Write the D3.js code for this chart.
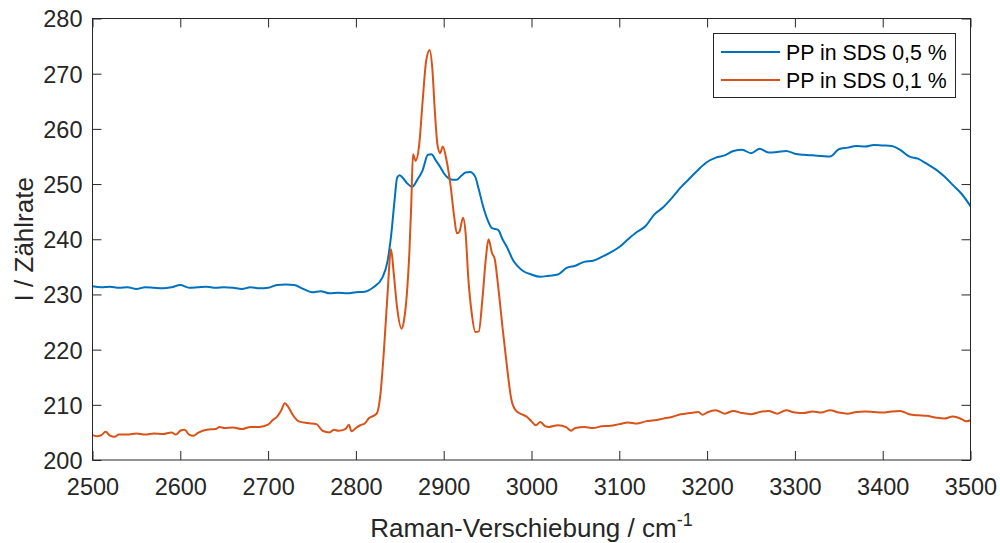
<!DOCTYPE html>
<html>
<head>
<meta charset="utf-8">
<script src="https://cdn.jsdelivr.net/npm/d3@7"></script>
<style>
  body { margin: 0; background: #fff; }
  svg text { font-family: "Liberation Sans", Arial, sans-serif; fill: #262626; }
</style>
</head>
<body>
<div id="chart"></div>
<script>
const width = 1000;
const height = 543;
const margin = { top: 18.5, right: 29.5, bottom: 83, left: 92.5 };

const xTicks = [2500, 2600, 2700, 2800, 2900, 3000, 3100, 3200, 3300, 3400, 3500];
const yTicks = [200, 210, 220, 230, 240, 250, 260, 270, 280];
const seriesNames = ["PP in SDS 0,5 %", "PP in SDS 0,1 %"];
const seriesColors = ["#0072BD", "#D95319"];

// PP in SDS 0,5 %
const shiftA = [
  2500, 2510, 2520, 2530, 2540, 2550, 2560, 2570, 2580, 2590,
  2600, 2610, 2620, 2630, 2640, 2650, 2660, 2670, 2680, 2690,
  2700, 2710, 2720, 2730, 2740, 2750, 2760, 2770, 2780, 2790,
  2800, 2810, 2820, 2830, 2836, 2840, 2844, 2847, 2850, 2854,
  2858, 2864, 2870, 2876, 2882, 2886, 2891, 2896, 2900, 2905,
  2910, 2915, 2920, 2925, 2930, 2936, 2940, 2945, 2950, 2955,
  2962, 2967, 2972, 2979, 2985, 2990, 3000, 3010, 3020, 3030,
  3040, 3050, 3060, 3070, 3080, 3090, 3100, 3110, 3120, 3130,
  3140, 3150, 3160, 3170, 3180, 3190, 3200, 3210, 3220, 3230,
  3240, 3250, 3260, 3270, 3280, 3290, 3300, 3310, 3320, 3330,
  3340, 3350, 3360, 3370, 3380, 3390, 3400, 3410, 3420, 3430,
  3440, 3450, 3460, 3470, 3480, 3490, 3500
];
const countsA = [
  231.5, 231.3, 231.4, 231.2, 231.3, 231.0, 231.3, 231.2, 231.1, 231.3,
  231.7, 231.2, 231.3, 231.4, 231.2, 231.3, 231.2, 231.0, 231.3, 231.1,
  231.2, 231.7, 231.8, 231.7, 231.0, 230.4, 230.6, 230.2, 230.3, 230.2,
  230.4, 230.5, 231.3, 233.0, 236.0, 240.5, 247.0, 251.2, 251.6, 251.0,
  250.2, 249.5, 250.8, 252.5, 255.3, 255.4, 254.3, 253.1, 252.0, 251.1,
  250.8, 250.8, 251.5, 252.1, 252.2, 251.3, 249.0, 245.9, 243.5, 242.0,
  241.7, 240.0, 238.6, 236.2, 235.0, 234.3, 233.6, 233.2, 233.4, 233.6,
  234.8, 235.2, 235.9, 236.1, 236.8, 237.6, 238.6, 240.0, 241.3, 242.4,
  244.5, 245.8, 247.5, 249.4, 251.0, 252.6, 254.0, 254.8, 255.2, 256.0,
  256.2, 255.6, 256.4, 255.7, 255.8, 256.0, 255.5, 255.3, 255.2, 255.1,
  255.0, 256.3, 256.6, 256.9, 256.8, 257.1, 257.0, 256.9, 256.2, 255.0,
  254.6, 253.7, 252.7, 251.4, 249.8, 248.2, 246.0
];

// PP in SDS 0,1 %
const shiftB = [
  2500, 2505, 2510, 2515, 2520, 2525, 2530, 2540, 2550, 2560,
  2570, 2580, 2590, 2595, 2600, 2605, 2610, 2615, 2620, 2630,
  2640, 2645, 2650, 2660, 2670, 2680, 2690, 2700, 2705, 2710,
  2715, 2719, 2723, 2728, 2735, 2745, 2755, 2762, 2770, 2775,
  2780, 2788, 2792, 2795, 2800, 2805, 2810, 2815, 2820, 2824,
  2828, 2832, 2836, 2840, 2843, 2847, 2852, 2855, 2858, 2861,
  2863, 2865, 2868, 2872, 2876, 2880, 2884, 2887, 2890, 2893,
  2896, 2899, 2903, 2908, 2912, 2915, 2918, 2922, 2925, 2928,
  2932, 2936, 2940, 2944, 2948, 2951, 2955, 2958, 2962, 2967,
  2972, 2977, 2982, 2990, 2995, 3000, 3005, 3010, 3015, 3020,
  3030, 3040, 3045, 3050, 3060, 3070, 3080, 3090, 3100, 3110,
  3120, 3130, 3140, 3150, 3160, 3170, 3180, 3190, 3195, 3200,
  3210, 3220, 3230, 3240, 3250, 3260, 3270, 3280, 3290, 3300,
  3310, 3320, 3330, 3340, 3350, 3360, 3370, 3380, 3390, 3400,
  3410, 3420, 3430, 3440, 3450, 3460, 3470, 3480, 3490, 3495,
  3500
];
const countsB = [
  204.5, 204.3, 204.5, 205.1, 204.4, 204.2, 204.6, 204.6, 204.8, 204.6,
  204.8, 204.7, 205.0, 204.6, 205.3, 205.5, 204.6, 204.4, 204.9, 205.5,
  205.6, 206.0, 205.8, 205.9, 205.6, 206.0, 206.0, 206.4, 207.2, 207.8,
  209.0, 210.3, 209.6, 208.2, 207.0, 206.7, 206.5, 205.3, 205.0, 205.5,
  205.3, 205.6, 206.4, 205.2, 205.8, 206.3, 206.6, 207.6, 208.0, 208.5,
  212.0, 220.0, 230.0, 238.2, 234.0, 227.5, 223.8, 225.5, 230.0, 238.0,
  246.0, 255.4, 254.2, 257.0, 265.0, 272.3, 274.3, 271.0, 263.0, 257.0,
  255.6, 256.8, 254.5, 249.5, 244.0, 241.1, 241.4, 243.9, 241.0, 233.0,
  226.5, 223.2, 223.3, 229.0, 236.5, 240.0, 237.5, 236.5, 231.5, 224.0,
  217.0, 211.0, 209.0, 208.2, 207.8, 207.0, 206.3, 206.9, 206.2, 206.0,
  206.3, 205.9, 205.3, 205.8, 206.0, 205.8, 206.1, 206.2, 206.5, 206.8,
  206.6, 207.0, 207.2, 207.5, 207.8, 208.3, 208.5, 208.7, 208.2, 208.6,
  209.0, 208.4, 208.9, 208.5, 208.3, 208.7, 208.9, 208.4, 209.0, 208.6,
  208.5, 208.8, 208.6, 209.0, 208.6, 208.4, 208.7, 208.8, 208.7, 208.6,
  208.8, 208.9, 208.3, 208.1, 208.0, 207.7, 207.5, 207.9, 207.4, 207.0,
  207.2
];

const series = [
  { name: seriesNames[0], color: seriesColors[0], values: shiftA.map((s, i) => ({ s, c: countsA[i] })) },
  { name: seriesNames[1], color: seriesColors[1], values: shiftB.map((s, i) => ({ s, c: countsB[i] })) }
];

const svg = d3.select("#chart")
  .append("svg")
  .attr("width", width)
  .attr("height", height);

const x = d3.scaleLinear()
  .domain([2500, 3500])
  .range([margin.left, width - margin.right]);

const y = d3.scaleLinear()
  .domain([200, 280])
  .range([height - margin.bottom, margin.top]);

const axisColor = "#262626";

// ticks on all four sides, pointing inwards
const styleAxis = g => {
  g.select(".domain").remove();
  g.selectAll(".tick line").attr("stroke", axisColor);
  g.selectAll("text").style("font-size", "23.5px").attr("fill", axisColor);
};

svg.append("g")
  .attr("transform", `translate(0,${y(200)})`)
  .call(d3.axisBottom(x).tickValues(xTicks).tickFormat(d3.format("d")).tickSize(-9).tickPadding(18))
  .call(styleAxis);

svg.append("g")
  .attr("transform", `translate(0,${y(280)})`)
  .call(d3.axisTop(x).tickValues(xTicks).tickSize(-9).tickFormat(""))
  .call(styleAxis);

svg.append("g")
  .attr("transform", `translate(${x(2500)},0)`)
  .call(d3.axisLeft(y).tickValues(yTicks).tickSize(-9).tickPadding(10))
  .call(styleAxis)
  .selectAll("text").attr("dy", "0.36em");

svg.append("g")
  .attr("transform", `translate(${x(3500)},0)`)
  .call(d3.axisRight(y).tickValues(yTicks).tickSize(-9).tickFormat(""))
  .call(styleAxis);

const line = d3.line()
  .curve(d3.curveMonotoneX)
  .x(d => x(d.s))
  .y(d => y(d.c));

svg.selectAll(".series")
  .data(series)
  .enter()
  .append("path")
  .attr("class", "series")
  .attr("d", d => line(d.values))
  .attr("fill", "none")
  .attr("stroke", d => d.color)
  .attr("stroke-width", 2)
  .attr("stroke-linejoin", "round");

// box
svg.append("rect")
  .attr("x", x(2500))
  .attr("y", y(280))
  .attr("width", x(3500) - x(2500))
  .attr("height", y(200) - y(280))
  .attr("fill", "none")
  .attr("stroke", axisColor)
  .attr("stroke-width", 1);

// axis labels
svg.append("text")
  .attr("x", (x(2500) + x(3500)) / 2)
  .attr("y", 537)
  .attr("text-anchor", "middle")
  .style("font-size", "26px")
  .call(t => {
    t.append("tspan").text("Raman-Verschiebung / cm");
    t.append("tspan").attr("dy", -11).style("font-size", "18px").text("-1");
  });

svg.append("text")
  .attr("transform", `translate(33,${(y(200) + y(280)) / 2}) rotate(-90)`)
  .attr("text-anchor", "middle")
  .style("font-size", "26px")
  .text("I / Zählrate");

// legend
const legend = svg.append("g");
legend.append("rect")
  .attr("x", 713.5)
  .attr("y", 33.5)
  .attr("width", 242)
  .attr("height", 64)
  .attr("fill", "#fff")
  .attr("stroke", axisColor)
  .attr("stroke-width", 1);

const rows = legend.selectAll(".row")
  .data(series)
  .enter()
  .append("g")
  .attr("transform", (d, i) => `translate(0,${52 + i * 28})`);

rows.append("line")
  .attr("x1", 721)
  .attr("x2", 780)
  .attr("stroke", d => d.color)
  .attr("stroke-width", 2);

rows.append("text")
  .attr("x", 786)
  .attr("y", 7.5)
  .style("font-size", "21.3px")
  .style("fill", "#000")
  .text(d => d.name);
</script>
</body>
</html>
